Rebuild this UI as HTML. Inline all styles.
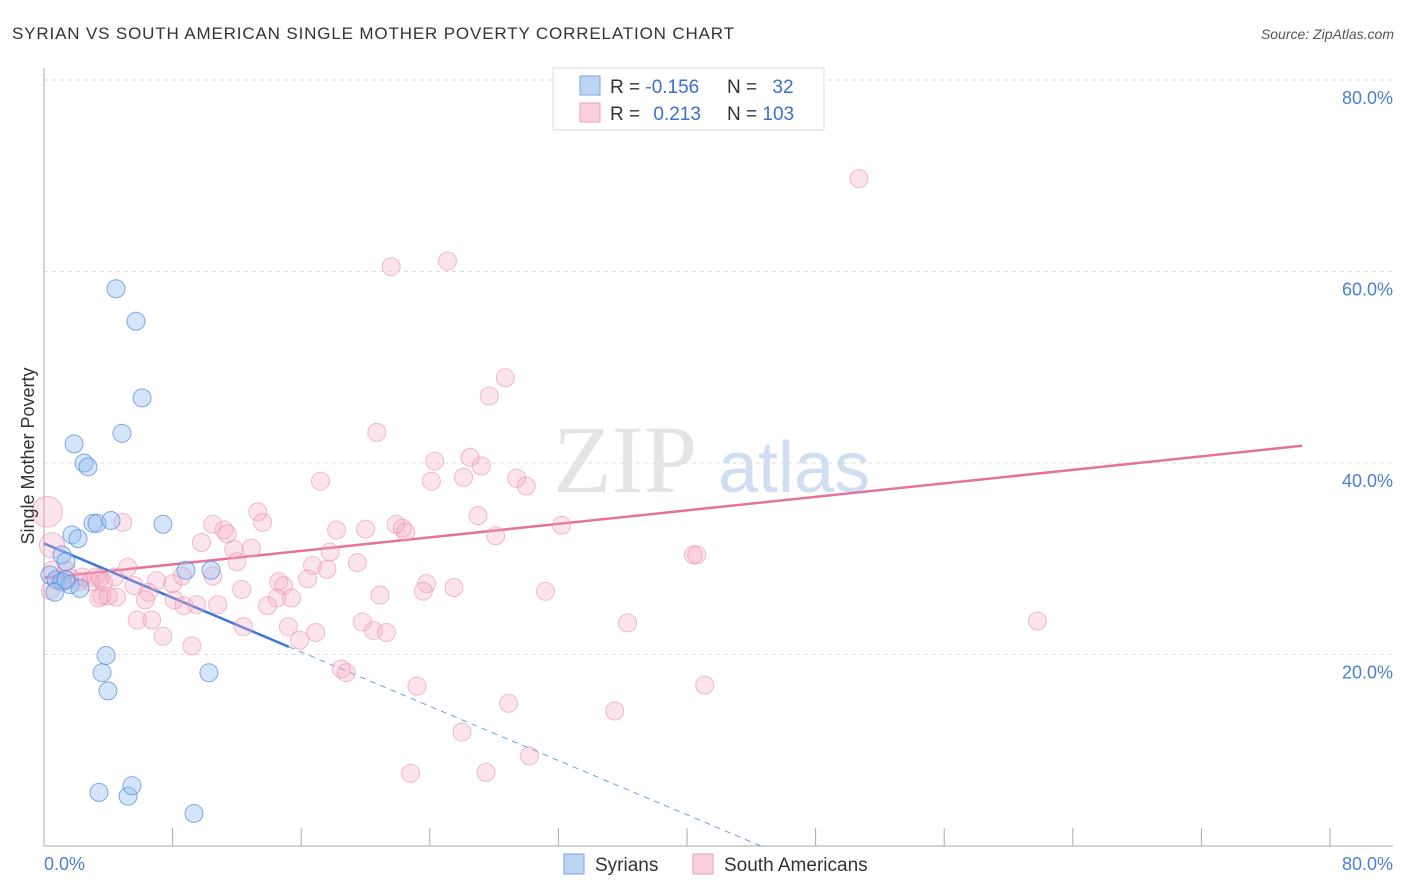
<!DOCTYPE html>
<html><head><meta charset="utf-8"><style>
body{margin:0;background:#fff;font-family:"Liberation Sans",sans-serif;}
svg{display:block}
</style></head><body>
<svg id="chart" width="1406" height="892">
<text x="12" y="39" font-size="17" fill="#333" textLength="722">SYRIAN VS SOUTH AMERICAN SINGLE MOTHER POVERTY CORRELATION CHART</text>
<text x="1394" y="39" font-size="14" fill="#555" text-anchor="end" font-style="italic">Source: ZipAtlas.com</text>
<g>
<text x="553" y="492" font-size="96" font-family="Liberation Serif,serif" fill="#e4e4e4">ZIP</text>
<text x="718" y="492" font-size="72" fill="#cfdff3">atlas</text>
</g>
<g id="grid"></g>
<g id="axes"></g>
<g id="lines"></g>
<g id="points"></g>
<text x="34" y="456" font-size="18" fill="#333" transform="rotate(-90 34 456)" text-anchor="middle">Single Mother Poverty</text>
<text x="44" y="870" font-size="18" fill="#4a7fd4">0.0%</text>
<text x="1393" y="870" font-size="18" fill="#4a7fd4" text-anchor="end">80.0%</text>
<g>
<rect x="553" y="68" width="271" height="62" fill="#fff" stroke="#ddd"/>
<rect x="580" y="76" width="20" height="19" fill="#bcd5f5" stroke="#7aa5e3"/>
<rect x="580" y="103" width="20" height="19" fill="#fbcfdc" stroke="#ee9fb8"/>
<text x="610" y="93" font-size="19" fill="#333">R = <tspan fill="#3a6fd0">-0.156</tspan></text>
<text x="727" y="93" font-size="19" fill="#333">N = <tspan fill="#3a6fd0" dx="10">32</tspan></text>
<text x="610" y="120" font-size="19" fill="#333">R = <tspan fill="#3a6fd0" dx="8">0.213</tspan></text>
<text x="727" y="120" font-size="19" fill="#333">N = <tspan fill="#3a6fd0">103</tspan></text>
</g>
<g>
<rect x="564" y="854" width="20" height="20" fill="#bcd5f5" stroke="#7aa5e3"/>
<text x="595" y="871" font-size="19" fill="#333">Syrians</text></g>
<g>
<rect x="693" y="854" width="20" height="20" fill="#fbcfdc" stroke="#ee9fb8"/>
<text x="724" y="871" font-size="19" fill="#333">South Americans</text></g>
</svg>
<script>
const yTicks=[20,40,60,80];
const yTickLabels=["20.0%","40.0%","60.0%","80.0%"];
const xTicks=[0,8,16,24,32,40,48,56,64,72,80];
const syrX=[4.48,5.72,6.1,4.85,1.87,2.49,2.74,3.05,3.3,4.17,7.4,1.74,2.12,1.12,1.37,0.37,0.75,1.12,1.62,2.24,0.68,8.83,10.39,3.86,3.61,10.26,3.98,3.42,5.23,5.47,9.33,1.37];
const syrY=[58.2,54.8,46.8,43.1,42.0,40.0,39.6,33.7,33.7,34.0,33.6,32.5,32.1,30.4,29.7,28.3,27.8,27.6,27.3,26.9,26.5,28.8,28.8,19.9,18.1,18.1,16.2,5.6,5.2,6.3,3.4,27.8];
const saX=[50.7,21.6,25.1,28.7,27.7,20.7,24.3,26.5,27.2,17.2,24.1,26.1,29.4,30.0,13.3,27.0,13.6,4.9,10.5,11.2,11.4,20.0,18.2,21.9,22.3,22.5,32.2,28.1,9.8,12.9,11.8,12.0,5.2,17.8,19.5,16.7,17.6,40.4,40.6,10.5,8.6,7.0,8.0,14.6,16.4,14.9,4.4,3.2,2.4,3.7,5.6,6.5,12.3,23.8,23.6,25.5,31.2,20.9,4.5,3.6,4.0,3.4,14.5,15.4,6.3,8.1,8.7,9.5,10.8,13.9,5.8,6.7,19.8,36.3,61.8,12.4,15.2,15.9,16.9,20.5,21.3,7.4,9.2,18.5,18.8,23.2,41.1,28.9,35.5,26.0,30.2,22.8,27.5,0.2,0.5,0.5,1.0,1.6,2.2,2.9,0.4,1.4,3.5];
const saY=[69.7,60.5,61.1,48.9,47.0,43.2,40.2,40.6,39.7,38.1,38.1,38.5,38.4,37.6,34.9,34.5,33.8,33.8,33.6,33.0,32.6,33.1,33.0,33.6,33.2,32.8,33.5,32.4,31.7,31.1,31.0,29.7,29.1,30.7,29.6,29.3,28.9,30.4,30.4,28.2,28.2,27.7,27.4,27.6,27.9,27.2,28.1,28.1,28.1,27.5,27.2,26.5,26.8,27.4,26.6,27.0,26.6,26.2,26.0,26.1,26.1,25.9,25.9,25.9,25.7,25.7,25.1,25.2,25.2,25.1,23.6,23.6,23.4,23.3,23.5,22.9,22.9,21.5,22.3,22.5,22.3,21.9,20.9,18.5,18.1,16.7,16.8,14.9,14.1,11.9,9.4,7.6,7.7,34.9,31.4,28.8,27.8,28.0,27.6,27.6,26.7,28.8,28.0];
const saSize=[];for(let i=0;i<saX.length;i++)saSize.push(i===saX.length-10?1.7:(i===saX.length-9?1.4:1));
const syrTrend=[[0,31.6],[15.24,20.8],[44.6,0]];
const saTrend=[[0,28.0],[78.26,41.8]];
const X=v=>44+v*16.075, Y=v=>846-v*9.575;
const NS="http://www.w3.org/2000/svg";
function mk(tag,attrs,parent){const e=document.createElementNS(NS,tag);for(const k in attrs)e.setAttribute(k,attrs[k]);document.getElementById(parent).appendChild(e);return e;}
yTicks.forEach((t,i)=>{
 const g=mk('line',{x1:44,x2:1393,y1:Y(t),y2:Y(t),stroke:'#ddd','stroke-dasharray':'4,4'},'grid');
 
 
 const l=mk('text',{x:1393,y:Y(t)+24,'font-size':18,fill:'#4a7fd4','text-anchor':'end'},'grid');
 l.textContent=yTickLabels[i];
 
 
});
let a=mk('line',{x1:44,x2:44,y1:68,y2:846,stroke:'#aaa'},'axes');


a=mk('line',{x1:44,x2:1393,y1:846,y2:846,stroke:'#aaa'},'axes');


xTicks.forEach(t=>{const k=mk('line',{x1:X(t),x2:X(t),y1:828,y2:846,stroke:'#aaa'},'axes');
 
 });
saX.forEach((v,i)=>{const c=mk('circle',{cx:X(v),cy:Y(saY[i]),r:9*saSize[i],fill:'rgba(245,165,192,0.3)',stroke:'rgba(235,145,175,0.6)','stroke-width':1},'points');
 
 });
syrX.forEach((v,i)=>{const c=mk('circle',{cx:X(v),cy:Y(syrY[i]),r:9,fill:'rgba(150,190,240,0.4)',stroke:'rgba(80,135,220,0.7)','stroke-width':1},'points');
 
 });
let ln=mk('line',{x1:X(saTrend[0][0]),y1:Y(saTrend[0][1]),x2:X(saTrend[1][0]),y2:Y(saTrend[1][1]),stroke:'#e5729c','stroke-width':2.5},'lines');


ln=mk('line',{x1:X(syrTrend[0][0]),y1:Y(syrTrend[0][1]),x2:X(syrTrend[1][0]),y2:Y(syrTrend[1][1]),stroke:'#3a78d8','stroke-width':2.5},'lines');


ln=mk('line',{x1:X(syrTrend[1][0]),y1:Y(syrTrend[1][1]),x2:X(syrTrend[2][0]),y2:Y(syrTrend[2][1]),stroke:'#6f9ee0','stroke-width':1,'stroke-dasharray':'6,5'},'lines');


</script>
</body></html>
